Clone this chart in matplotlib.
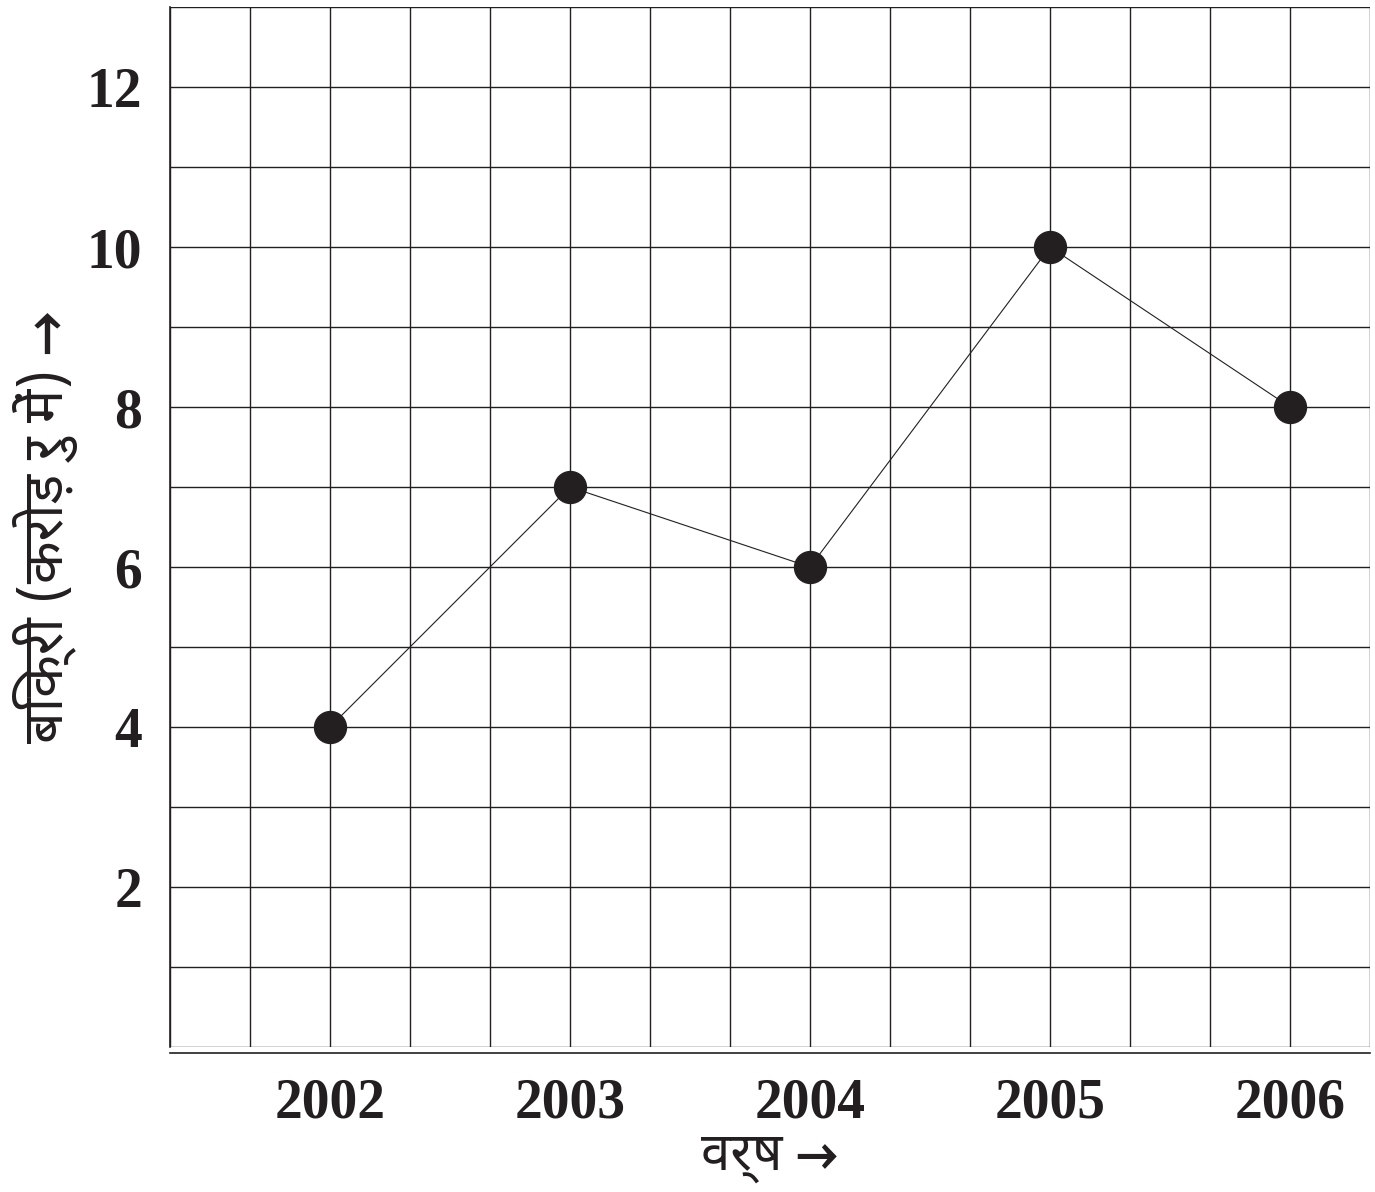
import numpy as np
import matplotlib
matplotlib.use("Agg")
import matplotlib.pyplot as plt
from matplotlib.ticker import MultipleLocator

# data
years = [2002, 2003, 2004, 2005, 2006]
sales = [4, 7, 6, 10, 8]          # crore rupees
y_ticks = [2, 4, 6, 8, 10, 12]

ink = '#231f20'
num_font = ['Liberation Serif', 'DejaVu Serif']
hin_font = ['Noto Sans Devanagari', 'Lohit Devanagari', 'FreeSerif', 'Liberation Serif', 'DejaVu Sans']

fig = plt.figure(figsize=(13.75, 11.92), dpi=100)
ax = fig.add_axes([170/1375, 1 - 1047/1192, 1200/1375, 1040/1192])

ax.plot(years, sales, color=ink, linewidth=0.8, zorder=3)
ax.plot(years, sales, 'o', color=ink, markersize=23, zorder=4)

# grid: one square = 1/3 year by 1 crore
ax.set_xlim(years[0] - 2/3, years[-1] + 1/3)
ax.set_ylim(0, 13)
ax.set_xticks(years)
ax.xaxis.set_minor_locator(MultipleLocator(1/3))
ax.set_yticks(y_ticks)
ax.yaxis.set_minor_locator(MultipleLocator(1))
ax.grid(True, which='both', color=ink, linewidth=1.0)
ax.set_axisbelow(True)

for s in ['top', 'right']:
    ax.spines[s].set_visible(False)
ax.spines['left'].set_color(ink)
ax.spines['left'].set_linewidth(1.2)
ax.spines['bottom'].set_color(ink)
ax.spines['bottom'].set_linewidth(1.2)
ax.spines['bottom'].set_position(('outward', 4))

ax.tick_params(which='both', length=0)
ax.tick_params(axis='y', pad=20)
ax.tick_params(axis='x', pad=18)
for lbl in ax.get_xticklabels() + ax.get_yticklabels():
    lbl.set_family(num_font)
    lbl.set_fontweight('bold')
    lbl.set_fontsize(40)
    lbl.set_color(ink)

ax.set_xlabel('वर्ष →', family=hin_font, fontsize=38, fontweight='bold', color=ink, labelpad=0)
ax.set_ylabel('बिक्री (करोड़ रु में) →', family=hin_font, fontsize=40, fontweight='bold', color=ink, labelpad=6)

fig.savefig('out.png', dpi=100)
